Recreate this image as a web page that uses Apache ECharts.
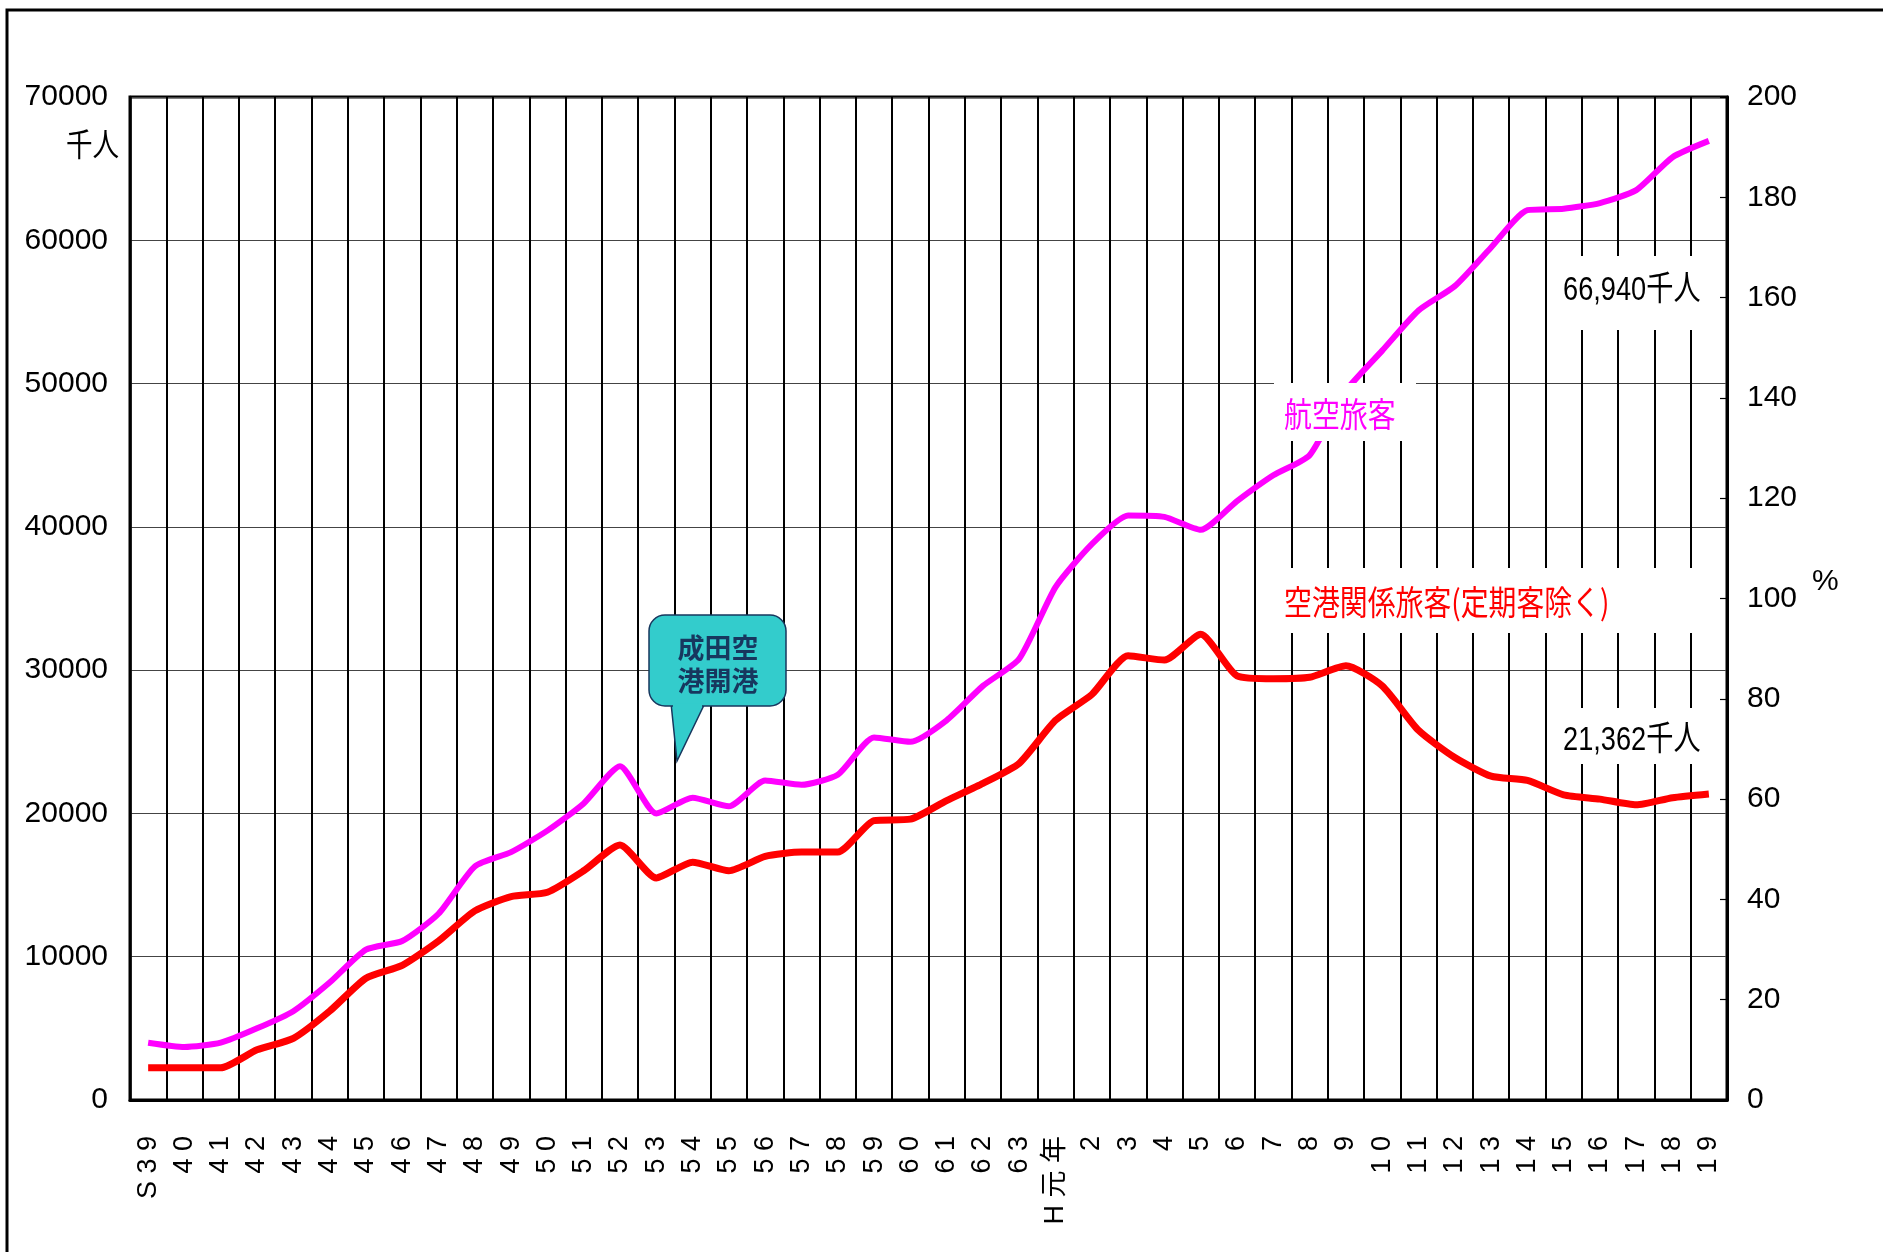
<!DOCTYPE html>
<html>
<head>
<meta charset="utf-8">
<title>航空旅客と空港関係旅客の推移</title>
<script src="https://cdn.jsdelivr.net/npm/echarts@6/dist/echarts.min.js"></script>
<style>
  html, body { margin: 0; padding: 0; background: #fff; }
  #chart { width: 1883px; height: 1252px; }
</style>
</head>
<body>
<div id="chart"></div>
<script>
// 年度（昭和39年〜63年、平成元年〜19年）
const years = ['S39', '40', '41', '42', '43', '44', '45', '46', '47', '48', '49', '50', '51', '52',
  '53', '54', '55', '56', '57', '58', '59', '60', '61', '62', '63', 'H元年', '2', '3', '4', '5',
  '6', '7', '8', '9', '10', '11', '12', '13', '14', '15', '16', '17', '18', '19'];

// 航空旅客（千人）
const airPassengers = [4000, 3700, 4000, 5000, 6200, 8200, 10500, 11100, 13000, 16300, 17300,
  18800, 20700, 23300, 20000, 21100, 20500, 22300, 22000, 22700, 25300, 25000, 26500, 28900,
  30800, 35800, 38800, 40800, 40700, 39800, 41800, 43600, 45000, 49500, 52300, 55100, 56800,
  59500, 62100, 62200, 62600, 63500, 65800, 66940];

// 空港関係旅客（定期客除く）（千人）
const airportPassengers = [2250, 2250, 2250, 3500, 4300, 6200, 8500, 9400, 11100, 13200, 14200,
  14500, 16000, 17800, 15500, 16600, 16000, 17000, 17300, 17300, 19500, 19600, 20900, 22100,
  23500, 26500, 28300, 31000, 30700, 32500, 29600, 29400, 29500, 30300, 28900, 25800, 23900,
  22600, 22300, 21300, 21000, 20600, 21100, 21362];

// 目盛り
const leftTicks = [0, 10000, 20000, 30000, 40000, 50000, 60000, 70000];
const rightTicks = [0, 20, 40, 60, 80, 100, 120, 140, 160, 180, 200];

const SANS = "'Liberation Sans', 'Noto Sans CJK JP', sans-serif";
const CJK = "'Noto Sans CJK JP', sans-serif";
const TEAL = '#33CCCC';
const NAVY = '#17375E';

// 細身の文字（横方向に縮小、基準点は配置位置）
function narrowText(x, y, text, size, family, color, scale) {
  return {
    type: 'text', x: x, y: y, z: 61, scaleX: scale, originX: 0, originY: 0,
    style: { text: text, fontSize: size, fontFamily: family, fill: color, align: 'left', verticalAlign: 'middle' }
  };
}

const chart = echarts.init(document.getElementById('chart'));

chart.setOption({
  animation: false,
  backgroundColor: '#fff',
  grid: {
    left: 130, right: 156, top: 97, bottom: 152,
    show: true, borderColor: '#000', borderWidth: 3
  },
  xAxis: {
    type: 'category',
    data: years,
    boundaryGap: true,
    axisLine: { lineStyle: { color: '#000', width: 3 } },
    axisTick: { show: false },
    axisLabel: {
      interval: 0,
      rotate: 90,
      margin: 36,
      color: '#000',
      fontSize: 27,
      fontFamily: SANS,
      formatter: v => v.split('').join(' ')
    },
    splitLine: { show: true, interval: 0, lineStyle: { color: '#000', width: 2 } }
  },
  yAxis: [
    {
      type: 'value',
      min: leftTicks[0],
      max: leftTicks[leftTicks.length - 1],
      interval: leftTicks[1] - leftTicks[0],
      axisLine: { show: true, lineStyle: { color: '#000', width: 2.5 } },
      axisTick: { show: false },
      axisLabel: { color: '#000', fontSize: 30, fontFamily: SANS, margin: 22, formatter: v => String(v) },
      splitLine: { show: true, lineStyle: { color: '#444', width: 1 } }
    },
    {
      type: 'value',
      position: 'right',
      min: rightTicks[0],
      max: rightTicks[rightTicks.length - 1],
      interval: rightTicks[1] - rightTicks[0],
      axisLine: { show: true, lineStyle: { color: '#000', width: 3 } },
      axisTick: { show: true, inside: true, length: 7, lineStyle: { color: '#000', width: 1.2 } },
      axisLabel: { color: '#000', fontSize: 30, fontFamily: SANS, margin: 20, formatter: v => String(v) },
      splitLine: { show: false }
    }
  ],
  series: [
    {
      name: '航空旅客',
      type: 'line',
      data: airPassengers,
      smooth: 0.2,
      symbol: 'none',
      lineStyle: { color: '#FF00FF', width: 6 },
      itemStyle: { color: '#FF00FF' },
      z: 3
    },
    {
      name: '空港関係旅客(定期客除く)',
      type: 'line',
      data: airportPassengers,
      smooth: 0.2,
      symbol: 'none',
      lineStyle: { color: '#FF0000', width: 7 },
      itemStyle: { color: '#FF0000' },
      z: 4
    }
  ],
  graphic: [
    // 外枠
    { type: 'rect', silent: true, z: 0, shape: { x: 7, y: 10, width: 2000, height: 2000 },
      style: { fill: 'none', stroke: '#000', lineWidth: 3 } },
    // 単位
    narrowText(66, 144, '千人', 32, CJK, '#000', 0.83),
    { type: 'text', x: 1812, y: 582, z: 10,
      style: { text: '%', fontSize: 30, fontFamily: SANS, fill: '#000', align: 'left', verticalAlign: 'middle' } },

    // 吹き出し「成田空港開港」
    { type: 'polygon', z: 50, shape: { points: [[671, 703], [677, 761], [705, 703]] },
      style: { fill: TEAL, stroke: NAVY, lineWidth: 1.5 } },
    { type: 'rect', z: 51, shape: { x: 649, y: 615, width: 137, height: 91, r: 16 },
      style: { fill: TEAL, stroke: NAVY, lineWidth: 1.5 } },
    { type: 'rect', z: 52, shape: { x: 673, y: 703.5, width: 29, height: 4.5 },
      style: { fill: TEAL } },
    { type: 'text', x: 718, y: 664, z: 53,
      style: { text: '成田空\n港開港', fontSize: 27, fontWeight: 'bold', fontFamily: CJK, lineHeight: 33,
        fill: NAVY, align: 'center', verticalAlign: 'middle' } },

    // 系列名ラベル（白抜き）
    { type: 'rect', z: 60, shape: { x: 1274, y: 383, width: 142, height: 58 }, style: { fill: '#fff' } },
    narrowText(1284, 414, '航空旅客', 34, CJK, '#FF00FF', 0.82),
    { type: 'rect', z: 60, shape: { x: 1270, y: 568, width: 435, height: 65 }, style: { fill: '#fff' } },
    narrowText(1284, 602, '空港関係旅客(定期客除く)', 34, CJK, '#FF0000', 0.82),

    // 最新値
    { type: 'rect', z: 60, shape: { x: 1558, y: 256, width: 150, height: 74 }, style: { fill: '#fff' } },
    narrowText(1563, 291, '66,940千人', 34, SANS, '#000', 0.8),
    { type: 'rect', z: 60, shape: { x: 1558, y: 708, width: 150, height: 56 }, style: { fill: '#fff' } },
    narrowText(1563, 741, '21,362千人', 34, SANS, '#000', 0.8)
  ]
});
</script>
</body>
</html>
